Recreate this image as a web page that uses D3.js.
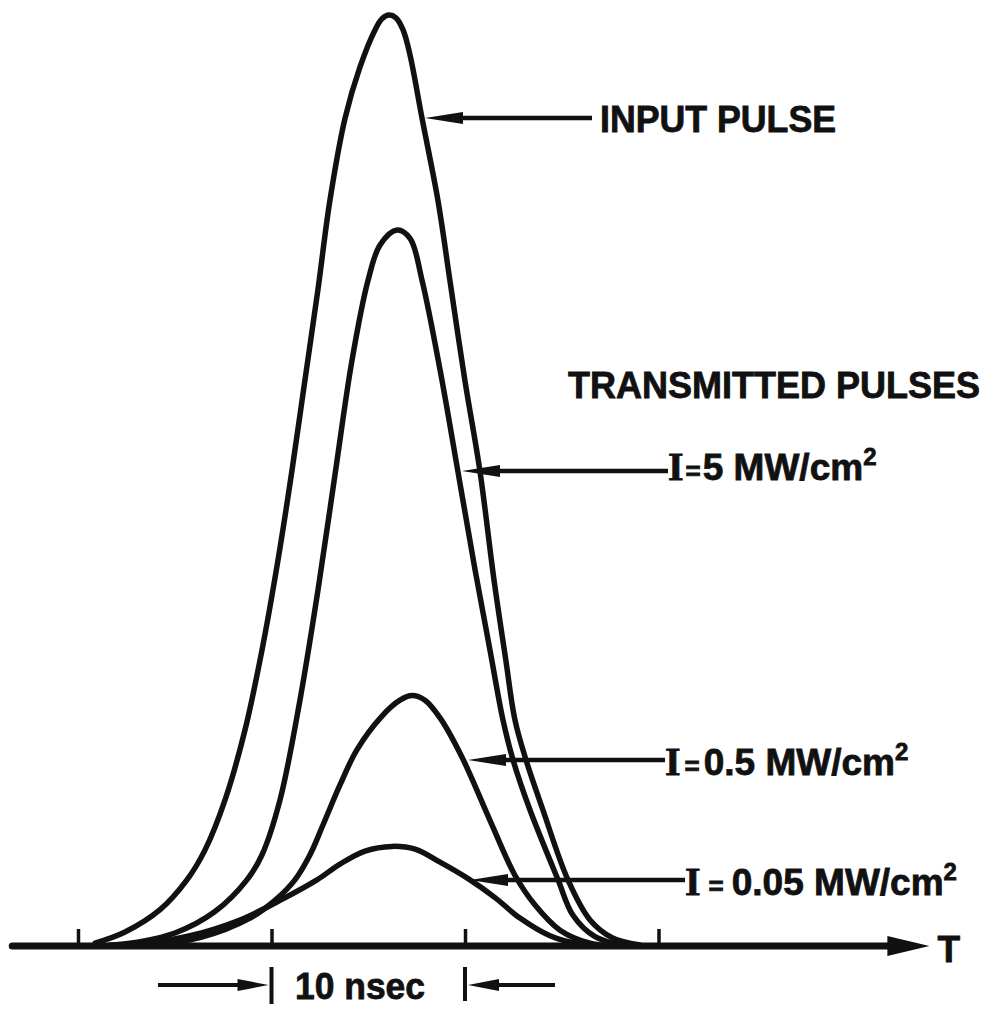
<!DOCTYPE html>
<html>
<head>
<meta charset="utf-8">
<script src="https://cdn.jsdelivr.net/npm/d3@7/dist/d3.min.js"></script>
<style>
  html, body { margin: 0; padding: 0; background: #fff; }
  svg { display: block; }
  text { font-family: "Liberation Sans", Arial, sans-serif; font-weight: bold; fill: #111; stroke: #111; stroke-width: 0.8px; }
</style>
</head>
<body>
<svg id="chart" width="996" height="1015"></svg>
<script>
// ---- Data (time in ns, amplitude normalised to input-pulse peak) ----
const inputT = [0.88, 2.43, 4.24, 5.63, 6.56, 7.60, 8.63, 9.51, 10.34, 11.06, 11.73, 12.40, 13.02, 13.80, 14.57, 15.35, 15.71, 16.07, 16.43, 16.80, 17.16, 17.78, 18.60, 19.22, 19.99, 20.78, 21.50, 22.11, 22.58, 23.15, 24.03, 25.32, 26.46, 27.60, 29.04];
const inputV = [0.003, 0.015, 0.039, 0.071, 0.103, 0.157, 0.232, 0.318, 0.415, 0.511, 0.608, 0.705, 0.801, 0.889, 0.944, 0.984, 0.996, 1.000, 0.997, 0.984, 0.957, 0.889, 0.801, 0.715, 0.608, 0.509, 0.393, 0.307, 0.243, 0.200, 0.146, 0.071, 0.028, 0.009, 0.001];

const i5T = [1.65, 2.69, 5.01, 7.08, 8.73, 9.51, 10.44, 11.47, 12.40, 13.28, 14.16, 14.99, 15.61, 16.49, 17.16, 17.78, 18.71, 19.64, 20.52, 21.29, 21.96, 22.48, 23.36, 24.81, 25.58, 26.72, 28.11];
const i5V = [0.001, 0.003, 0.014, 0.037, 0.071, 0.098, 0.157, 0.264, 0.382, 0.506, 0.629, 0.715, 0.753, 0.769, 0.760, 0.715, 0.619, 0.509, 0.404, 0.318, 0.243, 0.200, 0.146, 0.071, 0.033, 0.010, 0.001];

const i05T = [3.72, 6.30, 8.89, 10.18, 11.21, 11.99, 12.66, 13.54, 14.42, 15.71, 16.64, 17.26, 17.93, 18.71, 19.84, 21.29, 22.58, 23.62, 24.91, 26.46, 27.75];
const i05V = [0.001, 0.009, 0.030, 0.049, 0.071, 0.098, 0.130, 0.173, 0.211, 0.247, 0.264, 0.269, 0.264, 0.245, 0.203, 0.135, 0.076, 0.044, 0.017, 0.003, 0.000];

const i005T = [1.65, 3.20, 5.79, 8.37, 10.44, 12.35, 13.54, 14.83, 16.23, 17.42, 18.71, 20.26, 21.55, 22.84, 24.39, 25.94, 27.49];
const i005V = [0.000, 0.002, 0.011, 0.028, 0.049, 0.071, 0.088, 0.102, 0.107, 0.104, 0.090, 0.071, 0.052, 0.030, 0.011, 0.002, 0.000];

const tickValues = [0, 10, 20, 30];
const axisLabel = "T";
const scaleLabel = "10 nsec";
const inputLabel = "INPUT PULSE";
const groupLabel = "TRANSMITTED PULSES";
const intensityValues = ["5", "0.5", "0.05"];

// ---- Layout ----
const svg = d3.select("#chart");
const x = d3.scaleLinear().domain([0, 30]).range([78, 78 + 30 * 19.35]);
const y = d3.scaleLinear().domain([0, 1]).range([946, 15]);
const ink = "#111";

const series = [
  { t: inputT, v: inputV },
  { t: i5T, v: i5V },
  { t: i05T, v: i05V },
  { t: i005T, v: i005V }
];

const line = d3.line()
  .x(d => x(d[0]))
  .y(d => y(d[1]))
  .curve(d3.curveCatmullRom.alpha(0.5));

svg.append("g").selectAll("path")
  .data(series)
  .join("path")
  .attr("d", s => line(s.t.map((t, i) => [t, s.v[i]])))
  .attr("fill", "none")
  .attr("stroke", ink)
  .attr("stroke-width", 5.5)
  .attr("stroke-linejoin", "round")
  .attr("stroke-linecap", "round");

// baseline (time axis)
const x0 = x(-3.4), xEnd = x(44.0);
svg.append("line")
  .attr("x1", x0).attr("x2", xEnd - 30)
  .attr("y1", y(0)).attr("y2", y(0))
  .attr("stroke", ink).attr("stroke-width", 7).attr("stroke-linecap", "round");
svg.append("path")
  .attr("d", `M${xEnd},${y(0)} L${xEnd - 42},${y(0) - 10} L${xEnd - 42},${y(0) + 10} Z`)
  .attr("fill", ink);

// ticks via d3 axis
const axisG = svg.append("g")
  .attr("transform", `translate(0,${y(0)})`)
  .call(d3.axisTop(x).tickValues(tickValues).tickSize(17).tickFormat(""));
axisG.select(".domain").remove();
axisG.selectAll(".tick line").attr("stroke", ink).attr("stroke-width", 3.5);

svg.append("text")
  .attr("x", xEnd + 8).attr("y", y(0) + 16)
  .attr("font-size", 37)
  .text(axisLabel);

// pointer arrows with narrow dart heads
function pointer(xTip, yTip, xTail) {
  const dir = xTail > xTip ? 1 : -1;
  svg.append("line")
    .attr("x1", xTip + dir * 30).attr("x2", xTail)
    .attr("y1", yTip).attr("y2", yTip)
    .attr("stroke", ink).attr("stroke-width", 4.5);
  svg.append("path")
    .attr("d", `M${xTip},${yTip} L${xTip + dir * 38},${yTip - 6} L${xTip + dir * 38},${yTip + 6} Z`)
    .attr("fill", ink);
}

// Input pulse label
pointer(425, 118, 592);
svg.append("text").attr("x", 600).attr("y", 132)
  .attr("font-size", 37).attr("textLength", 236).attr("lengthAdjust", "spacingAndGlyphs")
  .text(inputLabel);

svg.append("text").attr("x", 568).attr("y", 398)
  .attr("font-size", 37).attr("textLength", 412).attr("lengthAdjust", "spacingAndGlyphs")
  .text(groupLabel);

function intensityLabel(xText, yBase, val, gap) {
  const t = svg.append("text").attr("x", xText).attr("y", yBase).attr("font-size", 37);
  t.append("tspan").attr("font-family", "Liberation Serif, serif").attr("font-size", 40).text("I");
  t.append("tspan").attr("font-size", 26).attr("dx", gap).text("=");
  t.append("tspan").attr("dx", gap).text(val + " MW/cm");
  t.append("tspan").attr("font-size", 24).attr("dy", -15).text("2");
}

pointer(462, 471, 668);
intensityLabel(668, 480, intensityValues[0], 2);
pointer(468, 760, 665);
intensityLabel(665, 775, intensityValues[1], 4);
pointer(470, 880, 685);
intensityLabel(685, 895, intensityValues[2], 8);

// 10 nsec scale marker
const xa = x(10), xb = x(20), ym = 985;
svg.append("line").attr("x1", xa).attr("x2", xa).attr("y1", 967).attr("y2", 1004)
  .attr("stroke", ink).attr("stroke-width", 4);
svg.append("line").attr("x1", xb).attr("x2", xb).attr("y1", 967).attr("y2", 1001)
  .attr("stroke", ink).attr("stroke-width", 4);
svg.append("line").attr("x1", 158).attr("x2", xa - 30).attr("y1", ym).attr("y2", ym)
  .attr("stroke", ink).attr("stroke-width", 4);
svg.append("path").attr("d", `M${xa - 3},${ym} L${xa - 34},${ym - 6} L${xa - 34},${ym + 6} Z`).attr("fill", ink);
svg.append("line").attr("x1", xb + 30).attr("x2", 555).attr("y1", ym).attr("y2", ym)
  .attr("stroke", ink).attr("stroke-width", 4);
svg.append("path").attr("d", `M${xb + 3},${ym} L${xb + 34},${ym - 6} L${xb + 34},${ym + 6} Z`).attr("fill", ink);
svg.append("text").attr("x", 295).attr("y", 999)
  .attr("font-size", 37).attr("textLength", 130).attr("lengthAdjust", "spacingAndGlyphs")
  .text(scaleLabel);
</script>
</body>
</html>
